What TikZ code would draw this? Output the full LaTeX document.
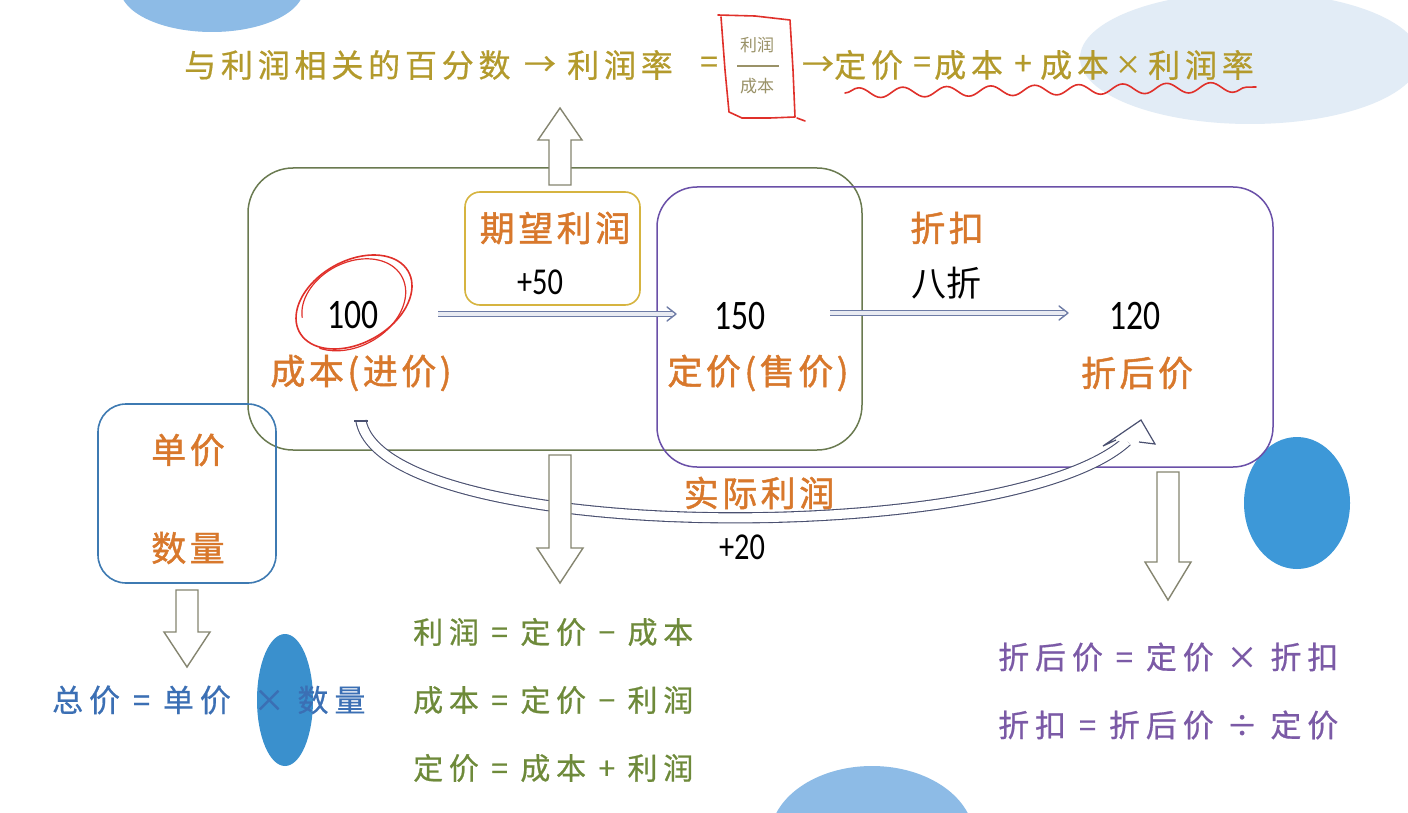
\documentclass[tikz,border=0pt]{standalone}
\usepackage{fontspec}
\setmainfont{Noto Sans CJK SC}
\newfontfamily\cjk{Noto Sans CJK SC}
\newfontfamily\cjkb[FakeBold=1.3,LetterSpace=10]{Noto Sans CJK SC}
\newfontfamily\cjks[FakeBold=0.6,LetterSpace=15]{Noto Sans CJK SC}
\newfontfamily\cjkf[FakeBold=0.6,LetterSpace=19]{Noto Sans CJK SC}
\newfontfamily\numf[FakeStretch=0.8]{Carlito}
\usetikzlibrary{arrows.meta,decorations.pathmorphing,calc}
\definecolor{orangeT}{HTML}{D8782C}
\definecolor{topc}{HTML}{B39A2C}
\definecolor{fracc}{HTML}{9A9268}
\definecolor{greenT}{HTML}{6E8A3A}
\definecolor{purpleT}{HTML}{7B5AA6}
\definecolor{blueT}{HTML}{3B6FB4}
\definecolor{greenbox}{HTML}{6A7A50}
\definecolor{purplebox}{HTML}{6A50A8}
\definecolor{goldbox}{HTML}{D6B440}
\definecolor{bluebox}{HTML}{3E7AB2}
\definecolor{arrowc}{HTML}{858570}
\definecolor{dblc}{HTML}{6E7CA6}
\definecolor{curvc}{HTML}{4A5070}
\definecolor{redpen}{HTML}{E0302A}
\definecolor{blobdark}{HTML}{3D98D8}
\definecolor{bloblight}{HTML}{8DBBE6}
\definecolor{cloud}{HTML}{E2ECF6}
\tikzset{
  lab/.style={inner sep=0pt, text=orangeT, font=\cjkb\fontsize{35pt}{40pt}\selectfont},
  num/.style={inner sep=0pt, text=black, font=\numf\fontsize{42pt}{46pt}\selectfont},
  blk/.style={inner sep=0pt, text=black, font=\cjk\fontsize{35pt}{40pt}\selectfont},
  toptxt/.style={inner sep=0pt, text=topc, font=\cjks\fontsize{32pt}{36pt}\selectfont},
  fractxt/.style={inner sep=0pt, text=fracc, font=\cjk\fontsize{17pt}{20pt}\selectfont},
  gform/.style={inner sep=0pt, anchor=west, text=greenT, font=\cjkf\fontsize{30pt}{34pt}\selectfont},
  pform/.style={inner sep=0pt, anchor=west, text=purpleT, font=\cjkf\fontsize{31pt}{34pt}\selectfont},
  bform/.style={inner sep=0pt, anchor=west, text=blueT, font=\cjkf\fontsize{31pt}{34pt}\selectfont},
  harrow/.style={draw=arrowc, line width=1.4pt, fill=white, line join=miter},
  dblline/.style={draw=dblc, line width=1.1pt, double=white!85!dblc, double distance=4pt},
  chevron/.style={draw=dblc, line width=1.4pt, line cap=round, line join=round},
  curvline/.style={draw=curvc, line width=1.1pt, double=white, double distance=9pt},
  curvhead/.style={draw=curvc, line width=1.2pt, line join=miter},
  redline/.style={draw=redpen, line width=1.6pt, line cap=round, line join=round},
}
\newcommand\dnarrow[4]{\draw[harrow] (#1-11,#2) -- (#1+11,#2) -- (#1+11,#3) -- (#1+23,#3) -- (#1,#4) -- (#1-23,#3) -- (#1-11,#3) -- cycle;}
\begin{document}
\begin{tikzpicture}[x=1pt,y=-1pt]
\useasboundingbox (0,0) rectangle (1408,813);
\fill[white] (0,0) rectangle (1408,813);
% decorative blobs
\begin{scope}
\clip (0,0) rectangle (1408,813);
\fill[bloblight] (212,-12) ellipse (92 and 44);
\fill[cloud] (1250,58) ellipse (170 and 66);
\fill[blobdark] (1297,503) ellipse (53 and 66);
\fill[blobdark!95!black] (285,700) ellipse (28 and 66);
\fill[bloblight] (872,838) ellipse (102 and 72);
\end{scope}
% main boxes
\node[draw=greenbox, line width=1.5pt, rounded corners=45pt, minimum width=614pt, minimum height=282pt, inner sep=0pt] (gbig) at (555,309) {};
\node[draw=purplebox, line width=1.5pt, rounded corners=40pt, minimum width=616pt, minimum height=280pt, inner sep=0pt] (pbig) at (965,327) {};
\node[draw=goldbox, line width=1.6pt, rounded corners=15pt, minimum width=175pt, minimum height=113pt, inner sep=0pt] (gold) at (552.5,248.5) {};
\node[draw=bluebox, line width=1.6pt, rounded corners=28pt, minimum width=178pt, minimum height=179pt, inner sep=0pt] (bbox) at (187,493.5) {};
% top line
\node[toptxt, anchor=west] (t1) at (184,65) {与利润相关的百分数};
\node[toptxt] (t2) at (540,66) {→};
\node[toptxt, anchor=west] (t3) at (567,65) {利润率};
\node[toptxt] (t4) at (709,65) {=};
\node[fractxt] (fn) at (757,45) {利润};
\node[fractxt] (fd) at (757,86) {成本};
\draw[fracc, line width=1.2pt] (737,66) -- (779,66);
\node[toptxt] (t5) at (818,66) {→};
\node[toptxt, anchor=west] (t6) at (834,65) {定价};
\node[toptxt] (t7) at (922,65) {=};
\node[toptxt, anchor=west] (t8) at (934,65) {成本};
\node[toptxt] (t9) at (1023,65) {+};
\node[toptxt, anchor=west] (t10) at (1040,65) {成本};
\node[toptxt, font=\cjks\fontsize{26pt}{30pt}\selectfont] (t11) at (1128,65) {×};
\node[toptxt, anchor=west] (t12) at (1148,65) {利润率};
% red marks
\draw[redline] (718,15) -- (755,16) -- (790,20) -- (793,70) -- (795,117) -- (770,118) -- (742,118);
\draw[redline] (721,17) -- (725,70) -- (729,112) -- (742,118);
\draw[redline] (797,118) -- (805,121);
\draw[redline, decorate, decoration={snake, segment length=44pt, amplitude=5pt}] (845,93) -- (1256,87);
% labels in the middle row
\node[lab] (qw) at (555,228) {期望利润};
\node[num, font=\numf\fontsize{38pt}{42pt}\selectfont] (p50) at (540,282) {+50};
\node[num] (n100) at (353,315) {100};
\node[lab] (cb) at (361,373) {成本(进价)};
\node[num] (n150) at (740,316) {150};
\node[lab] (dj) at (758,373) {定价(售价)};
\node[lab] (zk) at (947,228) {折扣};
\node[blk] (bz) at (946,283) {八折};
\node[num] (n120) at (1135,316) {120};
\node[lab] (zhj) at (1137,373) {折后价};
\node[lab] (sj) at (759,493) {实际利润};
\node[num, font=\numf\fontsize{38pt}{42pt}\selectfont] (p20) at (742,547) {+20};
\node[lab] (dj2) at (188,450) {单价};
\node[lab] (sl) at (188,548) {数量};
% red circle around 100
\draw[redline] plot[domain=150:520, samples=80, smooth] ({354+58*cos(\x+20)}, {302+47*sin(\x)});
\draw[redline, line width=1.2pt] plot[domain=160:470, samples=70, smooth] ({352+(50+0.02*(\x-160))*cos(\x+15)}, {303+(42+0.02*(\x-160))*sin(\x)});
% straight double arrows
\coordinate (a1s) at (438,314);
\coordinate (a1e) at (676,314);
\draw[dblline] (a1s) -- ($(a1e)+(-3,0)$);
\draw[chevron] ($(a1e)+(-9,-7)$) -- (a1e) -- ($(a1e)+(-9,7)$);
\coordinate (a2s) at (830,313);
\coordinate (a2e) at (1068,313);
\draw[dblline] (a2s) -- ($(a2e)+(-3,0)$);
\draw[chevron] ($(a2e)+(-9,-7)$) -- (a2e) -- ($(a2e)+(-9,7)$);
% curved double arrow
\coordinate (cs) at (361,421);
\coordinate (ce) at (1127,441);
\coordinate (ctip) at (1141,420);
\draw[curvline] (cs) .. controls (385,545) and (1010,548) .. (ce);
\draw[curvhead] ($(cs)+(-7,0)$) -- ($(cs)+(7,0)$);
\fill[white] (1114,441) -- (1103,446) -- (ctip) -- (1155,444) -- (1139,442) -- cycle;
\draw[curvhead] (1116,440) -- (1103,446) -- (ctip) -- (1155,444) -- (1139,442);
% block arrows
\draw[harrow] (549,185) -- (571,185) -- (571,140) -- (582,140) -- (560,108) -- (538,140) -- (549,140) -- cycle;
\dnarrow{560}{455}{548}{583}
\dnarrow{187}{590}{632}{667}
\dnarrow{1168}{472}{562}{600}
% formulas
\node[gform] (f1) at (413,632) {利润 = 定价 − 成本};
\node[gform] (f2) at (413,700) {成本 = 定价 − 利润};
\node[gform] (f3) at (413,768) {定价 = 成本 + 利润};
\node[pform] (f4) at (998,657) {折后价 = 定价 × 折扣};
\node[pform] (f5) at (998,725) {折扣 = 折后价 ÷ 定价};
\node[bform] (f6) at (52,700) {总价 = 单价 \hspace{10pt}× 数量};
\end{tikzpicture}
\end{document}
